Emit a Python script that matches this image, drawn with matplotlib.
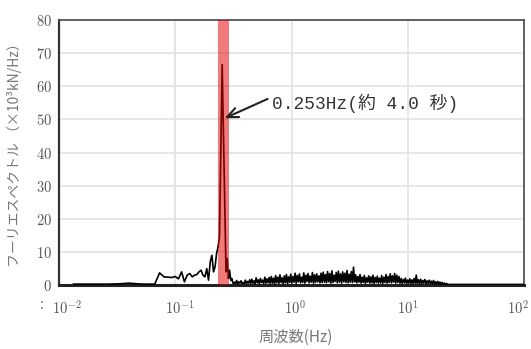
import numpy as np
import matplotlib
matplotlib.use("Agg")
import matplotlib.pyplot as plt
import matplotlib.transforms as mtransforms
from matplotlib.ticker import FuncFormatter, FixedLocator, MultipleLocator

plt.rcParams['font.family'] = ['Noto Sans CJK JP', 'DejaVu Sans']
plt.rcParams['mathtext.fontset'] = 'cm'

# FFT bins k/150 Hz, k = 2..46 (low frequency part, read bin by bin)
low_k = np.arange(2, 47)
low_amp = [0.3, 0.3, 0.3, 0.4, 0.6, 0.4, 0.3, 0.3,
           0.3, 3.7, 2.5, 2.4, 2.3, 2.6, 1.9, 4.0, 1.0, 3.0,
           3.5, 2.5, 3.0, 3.2, 4.0, 4.5, 3.0, 2.5, 5.0, 1.5,
           7.0, 9.0, 4.0, 5.5, 9.5, 11.5, 14.5, 40.0, 66.5, 45.0,
           24.0, 4.0, 8.0, 2.0, 4.5, 1.5, 2.0]

# dense part 0.31 - 22 Hz (sampled)
hi_amp = [1.2, 0.4, 0.9, 0.5, 1.4, 0.3, 1.0, 0.6, 1.3, 0.4, 0.8, 0.5, 1.5, 0.4, 1.1, 0.6, 1.6,
          0.5, 1.8, 0.6, 1.3, 0.5, 2.2, 0.7, 1.6, 0.4, 2.0, 0.8, 1.5, 0.5, 2.4, 0.6, 1.9, 0.7, 2.3, 0.5, 2.6,
          0.6, 2.1, 0.4, 2.9, 0.7, 2.4, 0.5, 3.1, 0.8, 2.2, 0.4, 2.8, 0.7, 3.2, 0.5, 2.5,
          0.8, 3.3, 0.6, 2.6, 0.9, 3.6, 0.5, 2.9, 1.0, 3.4, 0.7, 2.4, 0.8, 3.7, 0.6, 3.0,
          1.1, 3.5, 0.7, 2.7, 0.9, 3.8, 0.6, 3.1, 0.8, 3.4, 1.0, 2.8, 0.7, 3.6, 0.8,
          3.9, 0.9, 3.2, 0.7, 4.1, 1.0, 3.5, 0.6, 4.3, 0.8, 3.0, 1.1, 3.8, 0.7, 4.2, 0.9,
          3.4, 0.6, 4.0, 1.0, 3.6, 0.8, 4.4, 0.7, 3.3, 0.9, 4.1, 0.8,
          5.4, 1.0,
          3.1, 0.7, 2.6, 0.9, 3.2, 0.6, 2.4, 0.8, 2.9, 0.5, 2.2, 0.9, 2.8, 0.6, 2.5, 0.7,
          3.0, 0.5, 2.3, 0.8, 2.7, 0.6, 2.1, 0.7, 2.9, 0.5, 2.4, 0.8, 3.2, 0.6, 2.6,
          0.8, 3.4, 0.7, 2.8, 0.9, 3.5, 0.6, 3.0, 0.8, 2.6,
          0.6, 2.0, 0.5, 1.7, 0.7, 2.1, 0.5, 1.5, 0.6, 1.9, 0.5, 1.6, 0.5, 2.0,
          0.6, 3.0, 0.5,
          1.6, 0.5, 1.8, 0.4, 1.4, 0.6, 1.7, 0.4, 1.3, 0.5, 1.5, 0.4, 1.2, 0.4, 1.4, 0.3,
          1.0, 0.4, 1.1, 0.3, 0.9, 0.3, 0.8,
          0.3, 0.6, 0.3, 0.5, 0.2]

tail_freq = [25.0, 100.0]
tail_amp = [0.2, 0.2]

peak_freq = 0.253
band = (0.235, 0.292)
xticks = [1e-2, 1e-1, 1e0, 1e1, 1e2]

freq = np.concatenate([low_k / 150, np.geomspace(0.31, 22, len(hi_amp)), tail_freq])
amp = np.concatenate([low_amp, hi_amp, tail_amp])

fig = plt.figure(figsize=(5.31, 3.49), dpi=100)
ax = fig.add_axes([0.111, 0.183, 0.876, 0.760])

ax.plot(freq, amp, color='black', lw=1.2, zorder=3)
ax.axvspan(*band, color='#e60000', alpha=0.52, lw=0, zorder=4)

ax.set_xscale('log')
ax.set_xlim(1e-2, 1e2)
ax.set_ylim(0, 80)
ax.xaxis.set_major_locator(FixedLocator(xticks))
ax.xaxis.set_minor_locator(plt.NullLocator())
ax.yaxis.set_major_locator(MultipleLocator(10))
ax.xaxis.set_major_formatter(FuncFormatter(lambda v, p: r'$10^{%d}$' % round(np.log10(v))))
ax.yaxis.set_major_formatter(FuncFormatter(lambda v, p: r'$%d$' % v))
ax.tick_params(axis='both', length=0, labelsize=10.5, colors='#555555')
ax.tick_params(axis='x', pad=10)
ax.tick_params(axis='y', pad=5)
ax.grid(True, color='#e2e2e2', lw=1.2, zorder=0)

# shift x tick labels like the original layout
fig.canvas.draw()
shifts = [8, 4, 3, 0, -6]
for lab, dx in zip(ax.get_xticklabels(), shifts):
    lab.set_transform(lab.get_transform() + mtransforms.ScaledTranslation(dx / 100, 0, fig.dpi_scale_trans))

for s in ['top', 'right']:
    ax.spines[s].set_color('#555555')
    ax.spines[s].set_linewidth(1.3)
ax.spines['left'].set_color('#333333')
ax.spines['left'].set_linewidth(1.6)
ax.spines['bottom'].set_color('#222222')
ax.spines['bottom'].set_linewidth(2.2)

ax.annotate('', xy=(peak_freq, 50), xytext=(0.655, 56.5),
            arrowprops=dict(arrowstyle='->,head_length=0.8,head_width=0.35', color='#222222', lw=1.5),
            zorder=6)
ax.text(0.68, 54.8, '0.253Hz(約 4.0 秒)', fontsize=12.9, color='#333333',
        family=['Liberation Mono', 'Noto Sans CJK JP'],
        va='center', ha='left', zorder=6)

fig.text(0.028, 0.565, 'フーリエスペクトル （×10³kN/Hz）', rotation=90, fontsize=10,
         color='#777777', ha='center', va='center')
fig.text(0.556, 0.008, '周波数(Hz)', fontsize=11, color='#777777', ha='center', va='bottom')
fig.text(0.079, 0.126, ':', fontsize=10, color='#777777', ha='center', va='center')

fig.savefig('out.png', dpi=100)
